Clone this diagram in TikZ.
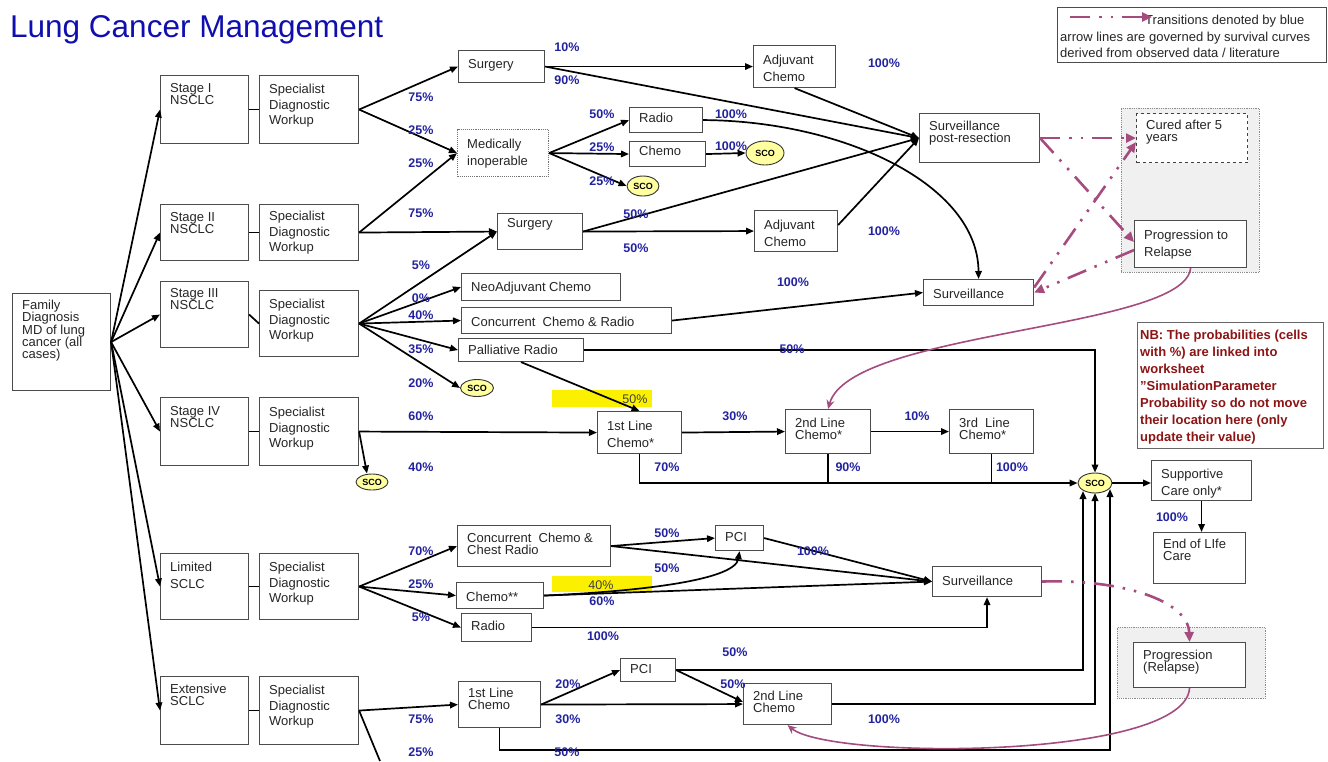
\documentclass[tikz,border=0pt]{standalone}
\usepackage{fontspec}
\setmainfont{Liberation Sans}
\usetikzlibrary{arrows.meta,shapes.geometric}
\definecolor{pblue}{RGB}{35,35,160}
\definecolor{ttl}{RGB}{15,15,175}
\definecolor{purp}{RGB}{165,75,125}
\definecolor{nbred}{RGB}{140,20,20}
\definecolor{grayfill}{RGB}{240,240,240}
\definecolor{scoy}{RGB}{255,255,160}
\definecolor{hlyellow}{RGB}{250,240,0}
\newcommand\mkbox[9][]{%
  \node[box,#1,anchor=north west,minimum width={(#6-#4)*1pt},minimum height={(#7-#5)*1pt}] (#3) at (#4,#5) {};%
  \node[#2,anchor=north west] (#3t) at (#4+10,#5+#8) {#9};%
}
\begin{document}
\begin{tikzpicture}[x=1pt,y=-1pt,
  box/.style={draw=black!70, line width=1.1pt, rectangle, inner sep=0pt, fill=white},
  dbox/.style={draw=black!55, densely dotted},
  cbox/.style={draw=black!75, dashed},
  garea/.style={draw=black!45, densely dotted, fill=grayfill, line width=0.8pt, inner sep=0pt, anchor=north west},
  txt/.style={font={\fontsize{13}{15.5}\selectfont}, align=left, inner sep=0pt, text=black!85},
  txtt/.style={txt, font={\fontsize{13}{12.3}\selectfont}},
  txtl/.style={txt, font={\fontsize{13}{17}\selectfont}},
  nbtxt/.style={font={\bfseries\fontsize{13}{17}\selectfont}, align=left, inner sep=0pt, text=nbred},
  pc/.style={font={\bfseries\fontsize{12.5}{14}\selectfont}, text=pblue, inner sep=0pt},
  hltxt/.style={font={\fontsize{12.5}{14}\selectfont}, text=black!75, inner sep=0pt},
  hl/.style={fill=hlyellow, inner sep=0pt},
  sco/.style={ellipse, draw=black!80, line width=0.9pt, fill=scoy, inner sep=0pt, font={\bfseries\fontsize{9}{10}\selectfont}},
  ln/.style={line width=1.7pt, black},
  arr/.style={ln, -{Triangle[length=8pt,width=6.5pt]}},
  pdash/.style={purp, line width=2.6pt, dash pattern=on 20pt off 9pt on 2.5pt off 9pt on 2.5pt off 9pt, -{Triangle[length=10pt,width=9pt]}},
  pcurve/.style={purp, line width=1.6pt, -{Stealth[length=9pt,width=8pt]}}
]
\useasboundingbox (0,0) rectangle (1328,761);

% title
\node[font={\fontsize{31.5}{36}\selectfont}, text=ttl, anchor=base west, inner sep=0pt] (title) at (10,37) {Lung Cancer Management};

% grey areas
\node[garea, minimum width=138pt, minimum height=164pt] (ga1) at (1121,108) {};
\node[garea, minimum width=148pt, minimum height=71pt] (ga2) at (1117,627) {};

% highlights
\node[hl, minimum width=100pt, minimum height=17pt] (hl1) at (602,398.5) {};
\node[hl, minimum width=100pt, minimum height=16pt] (hl2) at (602,584) {};

% boxes
\mkbox{txtt}{fam}{12}{293}{110}{390}{7}{Family\\Diagnosis\\MD of lung\\cancer (all\\cases)}
\mkbox{txtt}{st1}{160}{75}{248}{143}{8}{Stage I\\NSCLC}
\mkbox{txt}{sp1}{259}{75}{358}{143}{9}{Specialist\\Diagnostic\\Workup}
\mkbox{txtt}{st2}{160}{204}{248}{260}{8}{Stage II\\NSCLC}
\mkbox{txt}{sp2}{259}{204}{358}{260}{7}{Specialist\\Diagnostic\\Workup}
\mkbox{txtt}{st3}{160}{281}{248}{347}{7}{Stage III\\NSCLC}
\mkbox{txt}{sp3}{259}{290}{358}{356}{9}{Specialist\\Diagnostic\\Workup}
\mkbox{txtt}{st4}{160}{397}{248}{465}{9}{Stage IV\\NSCLC}
\mkbox{txt}{sp4}{259}{397}{358}{465}{10}{Specialist\\Diagnostic\\Workup}
\mkbox{txtl}{stL}{160}{553}{248}{619}{9}{Limited\\SCLC}
\mkbox{txt}{spL}{259}{553}{358}{619}{9}{Specialist\\Diagnostic\\Workup}
\mkbox{txtt}{stE}{160}{676}{248}{744}{8}{Extensive\\SCLC}
\mkbox{txt}{spE}{259}{676}{358}{744}{9}{Specialist\\Diagnostic\\Workup}

\mkbox{txt}{surg1}{458}{50}{544}{82}{9}{Surgery}
\mkbox[dbox]{txtl}{minop}{457}{129}{548}{176}{10}{Medically\\inoperable}
\mkbox{txt}{radio}{629}{107}{702}{132}{6}{Radio}
\mkbox{txt}{chemo}{629}{141}{705}{166}{5}{Chemo}
\mkbox{txtl}{adj1}{753}{45}{835}{87}{10}{Adjuvant\\Chemo}
\mkbox{txt}{surg2}{497}{213}{582}{249}{5}{Surgery}
\mkbox{txtl}{adj2}{754}{210}{837}{251}{10}{Adjuvant\\Chemo}
\mkbox{txtt}{spr}{919}{113}{1039}{162}{8}{Surveillance\\post-resection}
\mkbox{txt}{surv}{923}{279}{1033}{305}{10}{Surveillance}
\mkbox{txt}{neo}{461}{273}{620}{300}{9}{NeoAdjuvant Chemo}
\mkbox{txt}{conc}{461}{307}{671}{333}{10}{Concurrent\ \ Chemo \& Radio}
\mkbox{txt}{pall}{458}{338}{583}{361}{7}{Palliative Radio}
\mkbox{txtl}{l1}{597}{411}{681}{453}{10}{1st Line\\Chemo*}
\mkbox{txtt}{l2}{785}{409}{870}{453}{9}{2nd Line\\Chemo*}
\mkbox{txtt}{l3}{949}{409}{1033}{453}{9}{3rd\ \ Line\\Chemo*}
\mkbox{txtl}{sup}{1151}{460}{1251}{500}{9}{Supportive\\Care only*}
\mkbox{txtt}{eol}{1153}{532}{1245}{583}{7}{End of LIfe\\Care}
\mkbox{txtt}{cc}{457}{525}{610}{566}{8}{Concurrent\ \ Chemo \&\\Chest Radio}
\mkbox{txt}{chemo2}{456}{582}{543}{608}{10}{Chemo**}
\mkbox{txt}{radioL}{461}{613}{531}{641}{8}{Radio}
\mkbox{txt}{pciL}{715}{525}{763}{550}{7}{PCI}
\mkbox{txt}{survL}{932}{566}{1041}{596}{10}{Surveillance}
\mkbox{txtt}{l1E}{458}{681}{540}{727}{7}{1st Line\\Chemo}
\mkbox{txt}{pciE}{620}{658}{675}{681}{6}{PCI}
\mkbox{txtt}{l2E}{743}{683}{831}{724}{8}{2nd Line\\Chemo}
\mkbox[cbox]{txtt}{cured}{1136}{113}{1247}{162}{7}{Cured after 5\\years}
\mkbox{txtl}{progT}{1134}{220}{1246}{267}{10}{Progression to\\Relapse}
\mkbox{txtt}{progR}{1133}{642}{1245}{687}{8}{Progression\\(Relapse)}

% NB box
\node[box, draw=black!60, anchor=north west, minimum width=186pt, minimum height=126pt] (nb) at (1137,322) {};
\node[nbtxt, anchor=north west] (nbt) at (1140,330) {NB: The probabilities (cells\\with \%) are linked into\\worksheet\\{\char34}SimulationParameter\\Probability so do not move\\their location here (only\\update their value)};

% legend
\node[box, draw=black!70, line width=0.8pt, anchor=north west, minimum width=269pt, minimum height=55pt] (leg) at (1057,7) {};
\node[txt, font={\fontsize{13}{16.5}\selectfont}, anchor=north west] (legt) at (1060,15) {\hspace*{85pt}Transitions denoted by blue\\arrow lines are governed by survival curves\\derived from observed data / literature};
\coordinate (lgA) at (1070,17);
\coordinate (lgB) at (1152,17);

% SCO ellipses
\node[sco, minimum width=38pt, minimum height=24pt] (sco1) at (765,153) {SCO};
\node[sco, minimum width=32pt, minimum height=20pt] (sco2) at (643,186) {SCO};
\node[sco, minimum width=33pt, minimum height=17pt] (sco3) at (477,388) {SCO};
\node[sco, minimum width=32pt, minimum height=16pt] (sco4) at (372,482) {SCO};
\node[sco, minimum width=34pt, minimum height=20pt] (scoB) at (1095,483) {SCO};
\coordinate (sb1) at (1083,491);
\coordinate (sb2) at (1095,493);
\coordinate (sb3) at (1110,489);
\coordinate (cE) at (1110,750);
\coordinate (offE) at (380,761);

% connectors: family -> stages
\foreach \s in {st1,st2,st3,st4,stL,stE} \draw[arr] (fam.east) -- (\s.west);
\draw[ln] (st1.east) -- (sp1.west);
\draw[ln] (st2.east) -- (sp2.west);
\draw[ln] (st3.east) -- (sp3.west);
\draw[ln] (st4.east) -- (sp4.west);
\draw[ln] (stL.east) -- (spL.west);
\draw[ln] (stE.east) -- (spE.west);

% NSCLC I-II
\draw[arr] (sp1.east) -- (surg1.west);
\draw[arr] (sp1.east) -- (minop.west);
\draw[arr] (sp2.east) -- (minop.west);
\draw[arr] (sp2.east) -- (surg2.west);
\draw[arr] (sp3.east) -- (surg2.west);
\draw[arr] (surg1.east) -- (adj1.west);
\draw[arr] (surg1.east) -- (spr.west);
\draw[arr] (adj1.south) -- (spr.west);
\draw[arr] (minop.east) -- (radio.west);
\draw[arr] (minop.east) -- (chemo.west);
\draw[arr] (minop.east) -- (sco2.west);
\draw[arr] (chemo.east) -- (sco1.west);
\draw[arr] (radio.east) .. controls (845,121) and (978,185) .. (surv.north);
\draw[arr] (surg2.east) -- (adj2.west);
\draw[arr] (surg2.east) -- (spr.west);
\draw[arr] ([yshift=6pt]adj2.east) -- (spr.west);

% NSCLC III
\draw[arr] (sp3.east) -- (neo.west);
\draw[arr] (sp3.east) -- (conc.west);
\draw[arr] (sp3.east) -- (pall.west);
\draw[arr] (sp3.east) -- (sco3.west);
\draw[arr] (conc.east) -- (surv.west);
\draw[arr] (pall.east) -| (scoB.north);
\draw[arr] (pall.south) -- (l1.north);

% NSCLC IV
\draw[arr] (sp4.east) -- (l1.west);
\draw[arr] (sp4.east) -- ([xshift=-5pt]sco4.north);
\draw[arr] (l1.east) -- (l2.west);
\draw[arr] (l2.east) -- (l3.west);
\draw[arr] (l1.south) |- (scoB.west);
\draw[ln] (l2.south) -- (l2.south |- scoB.west);
\draw[ln] (l3.south) -- (l3.south |- scoB.west);
\draw[arr] (scoB.east) -- (scoB.east -| sup.west);
\draw[arr] (sup.south) -- (sup.south |- eol.north);

% Limited SCLC
\draw[arr] (spL.east) -- (cc.west);
\draw[arr] (spL.east) -- (chemo2.west);
\draw[arr] (spL.east) -- (radioL.west);
\draw[arr] (cc.east) -- (pciL.west);
\draw[arr] (cc.east) -- (survL.west);
\draw[arr] (pciL.east) -- (survL.west);
\draw[arr] (chemo2.east) .. controls (625,592) and (735,582) .. (pciL.south);
\draw[arr] (chemo2.east) -- (survL.west);
\draw[arr] (radioL.east) -| (survL.south);

% Extensive SCLC
\draw[arr] (spE.east) -- (l1E.west);
\draw[ln] (spE.east) -- (offE);
\draw[arr] (l1E.east) -- (pciE.west);
\draw[arr] (l1E.east) -- (l2E.west);
\draw[arr] (pciE.east) -- ([yshift=2pt]l2E.west);
\draw[arr] (pciE.east) -| (sb1);
\draw[arr] (l2E.east) -| (sb2);
\draw[arr] (l1E.south) |- (cE) -- (sb3);

% purple transitions
\draw[pdash] (lgA) -- (lgB);
\draw[pdash] (spr.east) -- (cured.west);
\draw[pdash] (spr.east) -- ([yshift=2pt]progT.west);
\draw[pdash] ([yshift=5pt]surv.east) -- ([yshift=-4pt]cured.west);
\draw[pdash] ([yshift=-6pt]progT.west) -- (surv.east);
\draw[pcurve] (progT.south) .. controls (1185,330) and (850,330) .. (l2.north);
\draw[pdash] (survL.east) .. controls (1120,579) and (1188,600) .. (progR.north);
\draw[pcurve] (progR.south) .. controls (1185,760) and (830,760) .. (l2E.south);

% percentages
\node[pc] (q1) at (421,97) {75\%};
\node[pc] (q2) at (421,130) {25\%};
\node[pc] (q3) at (421,163) {25\%};
\node[pc] (q4) at (421,213) {75\%};
\node[pc] (q5) at (567,47) {10\%};
\node[pc] (q6) at (567,80) {90\%};
\node[pc] (q7) at (884,63) {100\%};
\node[pc] (q8) at (602,114) {50\%};
\node[pc] (q9) at (602,147) {25\%};
\node[pc] (q10) at (602,181) {25\%};
\node[pc] (q11) at (731,114) {100\%};
\node[pc] (q12) at (731,146) {100\%};
\node[pc] (q13) at (636,214) {50\%};
\node[pc] (q14) at (636,248) {50\%};
\node[pc] (q15) at (884,231) {100\%};
\node[pc] (q16) at (421,265) {5\%};
\node[pc] (q17) at (421,298) {0\%};
\node[pc] (q18) at (421,315) {40\%};
\node[pc] (q19) at (421,349) {35\%};
\node[pc] (q20) at (421,383) {20\%};
\node[pc] (q21) at (793,282) {100\%};
\node[pc] (q22) at (792,349) {50\%};
\node[hltxt] (h1t) at (635,399) {50\%};
\node[pc] (q23) at (421,416) {60\%};
\node[pc] (q24) at (421,467) {40\%};
\node[pc] (q25) at (735,416) {30\%};
\node[pc] (q26) at (917,416) {10\%};
\node[pc] (q27) at (667,467) {70\%};
\node[pc] (q28) at (848,467) {90\%};
\node[pc] (q29) at (1012,467) {100\%};
\node[pc] (q30) at (1172,517) {100\%};
\node[pc] (q31) at (421,551) {70\%};
\node[pc] (q32) at (421,584) {25\%};
\node[pc] (q33) at (421,617) {5\%};
\node[pc] (q34) at (667,533) {50\%};
\node[pc] (q35) at (667,568) {50\%};
\node[pc] (q36) at (813,551) {100\%};
\node[hltxt] (h2t) at (601,585) {40\%};
\node[pc] (q37) at (602,601) {60\%};
\node[pc] (q38) at (603,636) {100\%};
\node[pc] (q39) at (735,652) {50\%};
\node[pc] (q40) at (568,684) {20\%};
\node[pc] (q41) at (733,684) {50\%};
\node[pc] (q42) at (568,719) {30\%};
\node[pc] (q43) at (421,719) {75\%};
\node[pc] (q44) at (421,752) {25\%};
\node[pc] (q45) at (884,719) {100\%};
\node[pc] (q46) at (567,752) {50\%};
\end{tikzpicture}
\end{document}
